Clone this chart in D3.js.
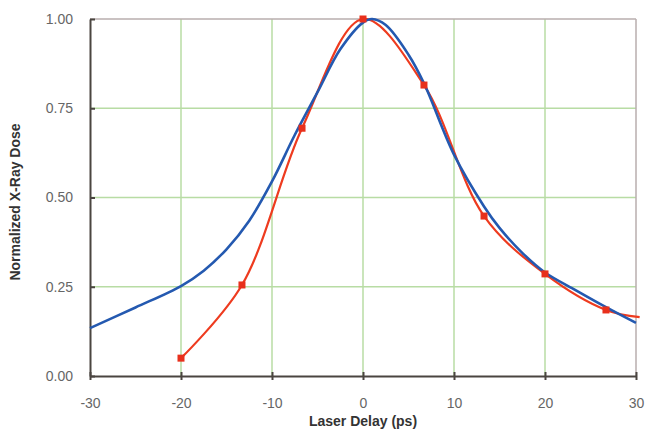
<!DOCTYPE html>
<html lang="en">
<head>
  <meta charset="utf-8">
  <title>X-Ray Dose vs Laser Delay</title>
  <script src="https://d3js.org/d3.v7.min.js"></script>
  <style>
    body { margin: 0; background: #fff; }
    text { font-family: Arial, "Liberation Sans", sans-serif; }
  </style>
</head>
<body>
<script>
  // measured points (red, with markers) - last one is the tail running off the plot edge
  var measDelay = [-20, -13.3, -6.7, 0, 6.7, 13.3, 20, 26.7, 30.4];
  var measDose  = [0.05, 0.255, 0.694, 1.0, 0.815, 0.448, 0.286, 0.185, 0.165];

  // model curve (blue, smooth)
  var modelDelay = [-30, -25, -20, -17.5, -15, -12.5, -10, -7.5, -5, -2.5, 0, 1, 2.5, 5, 6.7, 10, 13.3, 15, 17.5, 20, 23.4, 26.7, 30];
  var modelDose  = [0.134, 0.192, 0.252, 0.295, 0.355, 0.435, 0.545, 0.675, 0.795, 0.915, 0.99, 1.0, 0.983, 0.90, 0.82, 0.62, 0.475, 0.415, 0.345, 0.29, 0.24, 0.193, 0.149];

  var xTicks = [-30, -20, -10, 0, 10, 20, 30];
  var yTicks = [0, 0.25, 0.5, 0.75, 1.0];

  var w = 647, h = 447;
  var margin = {left: 90, right: 11, top: 19, bottom: 71};

  var svg = d3.select("body").append("svg")
    .attr("width", w)
    .attr("height", h);

  var x = d3.scaleLinear().domain([-30, 30]).range([margin.left, w - margin.right]);
  var y = d3.scaleLinear().domain([0, 1]).range([h - margin.bottom, margin.top]);

  // grid
  svg.append("g").selectAll("line.gx")
    .data(xTicks.slice(1, -1)).enter().append("line")
    .attr("x1", d => x(d)).attr("x2", d => x(d))
    .attr("y1", y(1)).attr("y2", y(0))
    .attr("stroke", "#b8dca4").attr("stroke-width", 1.5);
  svg.append("g").selectAll("line.gy")
    .data(yTicks.slice(1, -1)).enter().append("line")
    .attr("x1", x(-30)).attr("x2", x(30))
    .attr("y1", d => y(d)).attr("y2", d => y(d))
    .attr("stroke", "#b8dca4").attr("stroke-width", 1.5);

  // top and right border
  svg.append("line").attr("x1", x(-30)).attr("x2", x(30)).attr("y1", y(1)).attr("y2", y(1))
    .attr("stroke", "#b9aeae").attr("stroke-width", 1.5);
  svg.append("line").attr("x1", x(30)).attr("x2", x(30)).attr("y1", y(1)).attr("y2", y(0))
    .attr("stroke", "#b9aeae").attr("stroke-width", 1.5);

  // axes
  var xAxis = svg.append("g")
    .attr("transform", "translate(0," + y(0) + ")")
    .call(d3.axisBottom(x).tickValues(xTicks).tickSizeInner(4).tickSizeOuter(0).tickPadding(18)
      .tickFormat(d => String(d)));
  var yAxis = svg.append("g")
    .attr("transform", "translate(" + x(-30) + ",0)")
    .call(d3.axisLeft(y).tickValues(yTicks).tickSizeInner(-5).tickSizeOuter(0).tickPadding(17)
      .tickFormat(d3.format(".2f")));

  [xAxis, yAxis].forEach(function(a) {
    a.select(".domain").attr("stroke", "#4a4540").attr("stroke-width", 2);
    a.selectAll(".tick line").attr("stroke", "#4a4540").attr("stroke-width", 2);
    a.selectAll(".tick text").attr("fill", "#666").style("font-size", "14px")
      .style("font-family", "Arial, 'Liberation Sans', sans-serif");
  });
  xAxis.selectAll(".tick line").attr("y1", -4);

  // titles
  svg.append("text")
    .attr("x", x(0)).attr("y", 426)
    .attr("text-anchor", "middle")
    .attr("fill", "#333").style("font-size", "14px").style("font-weight", "bold")
    .text("Laser Delay (ps)");
  svg.append("text")
    .attr("transform", "translate(20," + 202 + ") rotate(-90)")
    .attr("text-anchor", "middle")
    .attr("fill", "#333").style("font-size", "14px").style("font-weight", "bold")
    .text("Normalized X-Ray Dose");

  var line = d3.line()
    .x(d => x(d[0])).y(d => y(d[1]))
    .curve(d3.curveCatmullRom.alpha(0.5));

  var meas = d3.zip(measDelay, measDose);
  var model = d3.zip(modelDelay, modelDose);

  svg.append("path").datum(meas)
    .attr("d", line)
    .attr("fill", "none").attr("stroke", "#ee3b1f").attr("stroke-width", 2.2);

  svg.append("path").datum(model)
    .attr("d", line)
    .attr("fill", "none").attr("stroke", "#2459b0").attr("stroke-width", 2.6);

  svg.append("g").selectAll("rect")
    .data(meas.filter(d => d[0] <= 30)).enter().append("rect")
    .attr("x", d => x(d[0]) - 3.5).attr("y", d => y(d[1]) - 3.5)
    .attr("width", 7).attr("height", 7)
    .attr("fill", "#e8301c");
</script>
</body>
</html>
